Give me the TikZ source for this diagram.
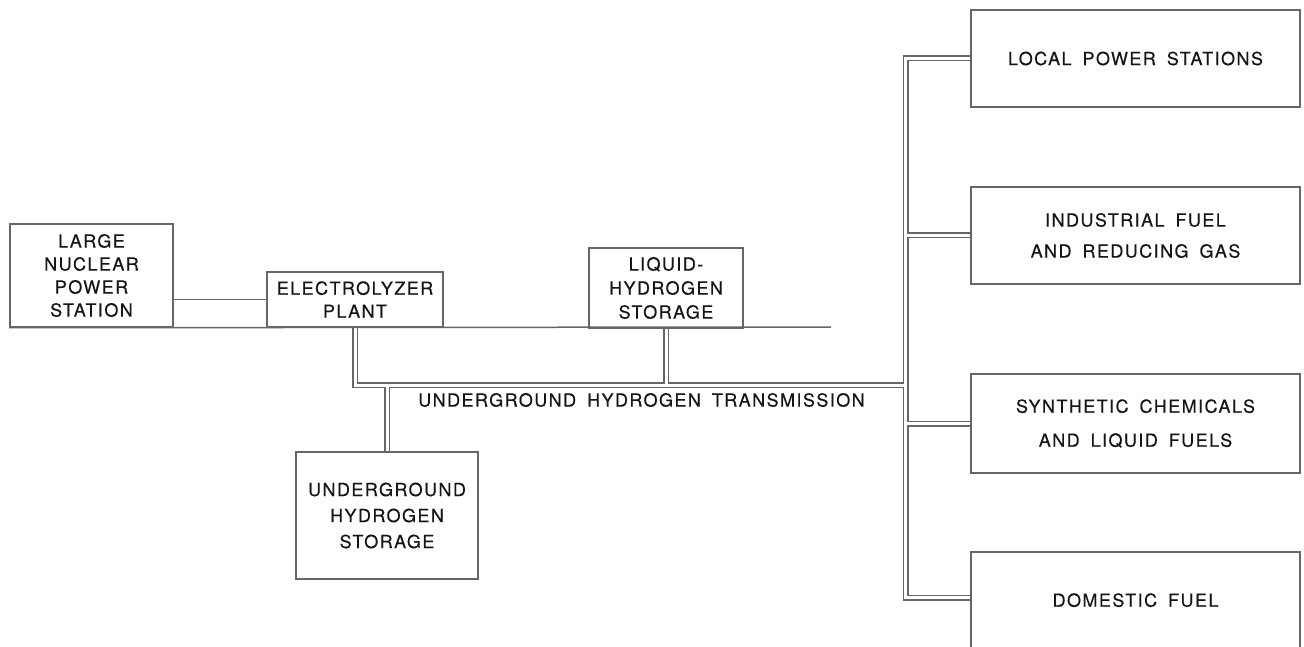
\documentclass[tikz,border=0pt]{standalone}
\usepackage{fontspec}
\setmainfont{TeX Gyre Heros}[LetterSpace=8,WordSpace=1.7,FakeBold=0.4]
\usetikzlibrary{backgrounds}
\definecolor{linegray}{HTML}{666666}
\definecolor{txt}{HTML}{151515}
\tikzset{
  box/.style={draw=linegray, line width=1.5pt, rectangle, inner sep=0pt,
    align=center, text=txt},
  link/.style={draw=linegray, line width=1.5pt},
  pipeout/.style={draw=linegray, line width=6pt, line cap=butt, line join=miter},
  pipein/.style={draw=white, line width=3pt, line cap=butt, line join=miter},
}
\begin{document}
\begin{tikzpicture}[x=1pt,y=-1pt]
\useasboundingbox (0,0) rectangle (1304,647);
\begin{scope}[font=\fontsize{18}{23}\selectfont]
\node[box, minimum width=163pt, minimum height=103pt] (nuc) at (91.5,275.5)
  {LARGE\\NUCLEAR\\POWER\\STATION};
\node[box, minimum width=176pt, minimum height=55pt] (elec) at (355,299.5)
  {ELECTROLYZER\\PLANT};
\node[box, minimum width=154pt, minimum height=80pt, font=\fontsize{18}{24}\selectfont] (lh2) at (666,288)
  {LIQUID-\\HYDROGEN\\STORAGE};
\node[box, minimum width=182pt, minimum height=127pt, font=\fontsize{18}{26}\selectfont] (ugs) at (387,515.5)
  {UNDERGROUND\\HYDROGEN\\STORAGE};
\node[box, minimum width=329pt, minimum height=97pt] (loc) at (1135.5,58.5)
  {LOCAL POWER STATIONS};
\node[box, minimum width=329pt, minimum height=97pt, font=\fontsize{18}{31}\selectfont] (ind) at (1135.5,235.5)
  {INDUSTRIAL FUEL\\AND REDUCING GAS};
\node[box, minimum width=329pt, minimum height=99pt, font=\fontsize{18}{34}\selectfont] (syn) at (1135.5,423.5)
  {SYNTHETIC CHEMICALS\\AND LIQUID FUELS};
\node[box, minimum width=329pt, minimum height=100pt] (dom) at (1135.5,602)
  {\raisebox{4pt}{DOMESTIC FUEL}};
\node[text=txt, inner sep=0pt] (trans) at (641.5,400)
  {UNDERGROUND HYDROGEN TRANSMISSION};
\end{scope}
\coordinate (j) at (905.5,385);
\coordinate (lineend) at (831,327);
% single lines
\draw[link] (elec.west -| nuc.east) -- (elec.west);
\draw[link] (nuc.south west) -- (lineend);
% pipes
\begin{pgfonlayer}{background}
\foreach \s in {pipeout,pipein}{
  \draw[\s] (elec.south) |- (j);
  \draw[\s] (lh2.south) -- (lh2.south |- j);
  \draw[\s] (ugs.north) -- (ugs.north |- j);
  \draw[\s] (loc.west) -| (j) |- ([yshift=4.5pt]dom.west);
  \draw[\s] (ind.west) -- (ind.west -| j);
  \draw[\s] (syn.west) -- (syn.west -| j);
}
\end{pgfonlayer}
\end{tikzpicture}
\end{document}
